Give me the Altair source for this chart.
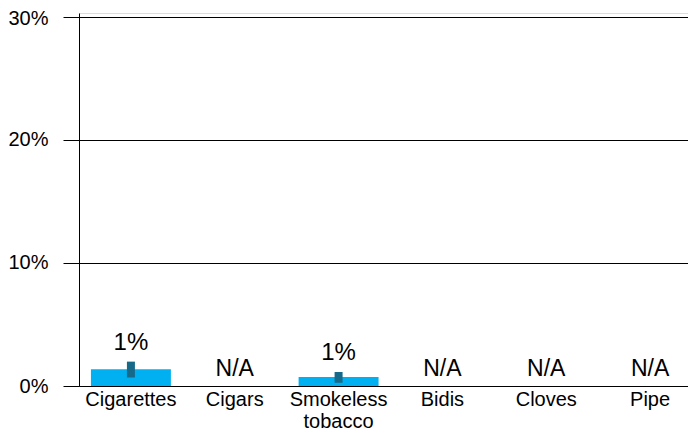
import altair as alt
import pandas as pd

categories = ["Cigarettes", "Cigars", "Smokeless tobacco", "Bidis", "Cloves", "Pipe"]
values = [1.37, None, 0.74, None, None, None]
err_low = [0.69, None, 0.26, None, None, None]
err_high = [1.98, None, 1.13, None, None, None]
labels = ["1%", "N/A", "1%", "N/A", "N/A", "N/A"]

df = pd.DataFrame({
    "category": categories,
    "value": values,
    "low": err_low,
    "high": err_high,
    "label": labels,
})

FONT = "Liberation Sans"

x = alt.X(
    "category:N",
    sort=categories,
    scale=alt.Scale(paddingInner=0.23, paddingOuter=0.115),
    axis=alt.Axis(
        title=None, labelAngle=0, ticks=False, labelFontSize=20, labelColor="black",
        labelFont=FONT, domainColor="black", labelExpr="split(datum.label, ' ')",
        labelLineHeight=22, labelPadding=3, grid=False,
    ),
)
yscale = alt.Scale(domain=[0, 30.3], nice=False)
y_axis = alt.Axis(
    values=[0, 10, 20, 30], labelExpr="datum.value + '%'", title=None,
    tickSize=16, tickColor="black", gridColor="black", gridOpacity=1,
    domainColor="black", labelPadding=15, labelFontSize=20, labelColor="black",
    labelFont=FONT, grid=True,
    labelOffset={"condition": {"test": "datum.value == 30", "value": 2}, "value": 0},
)

base = alt.Chart(df)

bars = base.mark_bar(color="#00B0F0").encode(
    x=x,
    y=alt.Y("value:Q", scale=yscale, axis=y_axis),
)

errs = base.mark_bar(color="#17698A", size=8).encode(
    x=x,
    y=alt.Y("low:Q", scale=yscale),
    y2="high:Q",
)

pct_text = base.transform_filter("datum.label != 'N/A'").mark_text(
    font=FONT, fontSize=24, color="black", dy=-12, baseline="alphabetic"
).encode(
    x=x,
    y=alt.Y("high:Q", scale=yscale),
    text="label:N",
)

na_text = base.transform_filter("datum.label == 'N/A'").transform_calculate(
    zero="0"
).mark_text(
    font=FONT, fontSize=23, color="black", dy=-10, baseline="alphabetic"
).encode(
    x=x,
    y=alt.Y("zero:Q", scale=yscale),
    text="label:N",
)

chart = alt.layer(bars, errs, pct_text, na_text).properties(
    width=623,
    height=373,
    autosize=alt.AutoSizeParams(type="none"),
    padding={"left": 71, "top": 5, "right": -14, "bottom": 46},
).configure_view(
    stroke="black", strokeWidth=1
).configure(background="white")

chart.save("out.html", embed_options={"renderer": "svg", "actions": False})
